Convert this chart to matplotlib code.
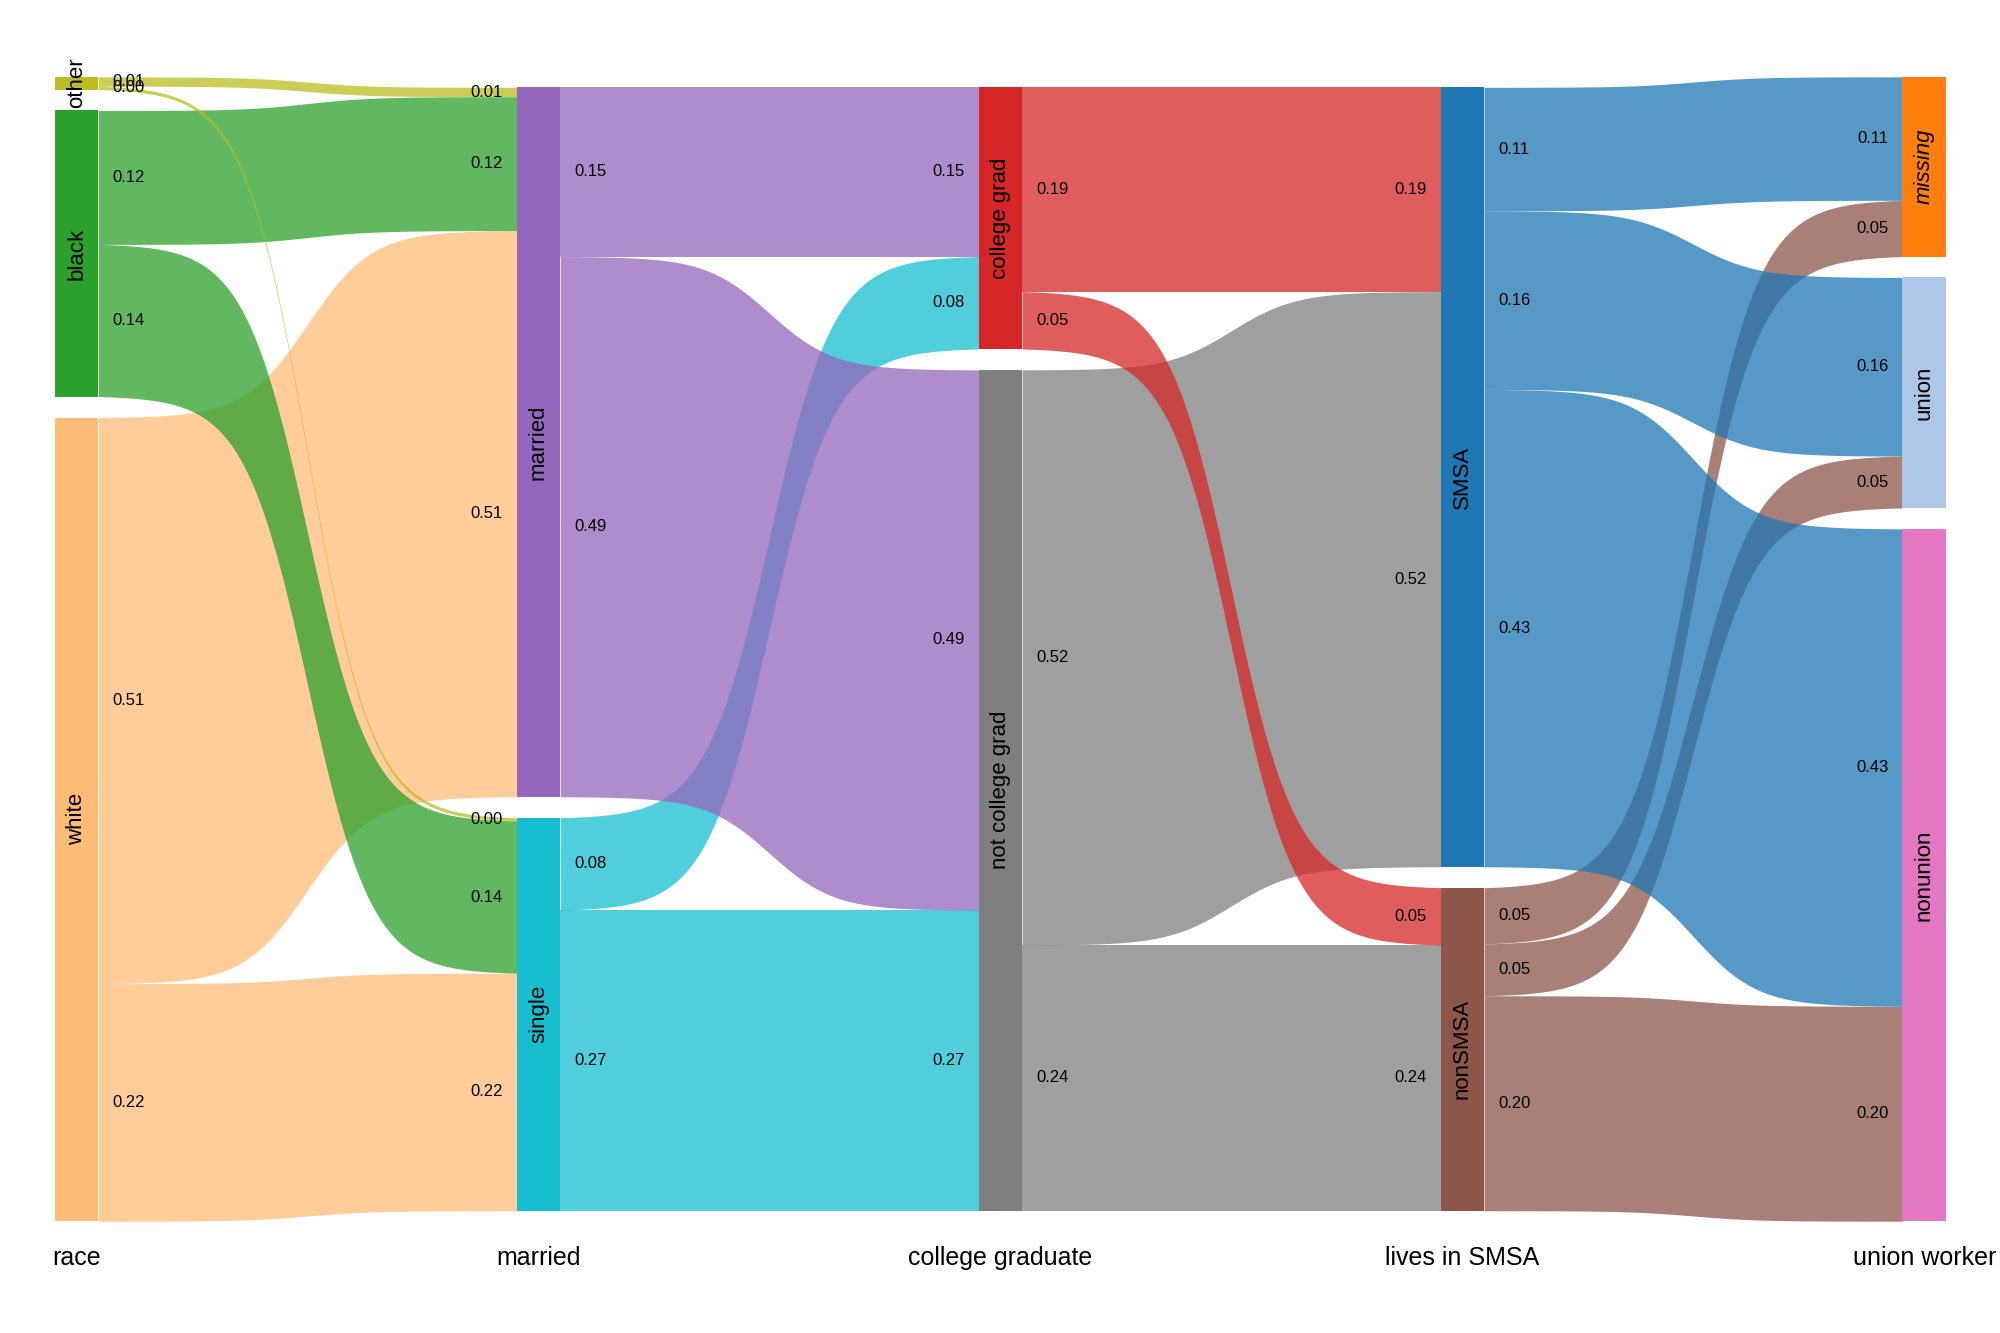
import matplotlib
matplotlib.use('Agg')
import matplotlib.pyplot as plt
import numpy as np
from matplotlib import font_manager

# stages (columns) of the sankey
stages = ["race", "married", "college graduate", "lives in SMSA", "union worker"]

race_nodes = ["other", "black", "white"]
married_nodes = ["married", "single"]
college_nodes = ["college grad", "not college grad"]
smsa_nodes = ["SMSA", "nonSMSA"]
union_nodes = ["missing", "union", "nonunion"]

race_colors = ["#bcbd22", "#2ca02c", "#ffbb78"]
married_colors = ["#9467bd", "#17becf"]
college_colors = ["#d62728", "#7f7f7f"]
smsa_colors = ["#1f77b4", "#8c564b"]
union_colors = ["#ff7f0e", "#aec7e8", "#e377c2"]

# flow shares (rows = source node, columns = target node)
race_to_married = [[0.0085, 0.003],
                   [0.1215, 0.138],
                   [0.5135, 0.2155]]
married_to_college = [[0.1535, 0.49],
                      [0.0838, 0.2727]]
college_to_smsa = [[0.1853, 0.052],
                   [0.5217, 0.241]]
smsa_to_union = [[0.112, 0.162, 0.433],
                 [0.051, 0.047, 0.195]]

node_names = [race_nodes, married_nodes, college_nodes, smsa_nodes, union_nodes]
node_colors = [race_colors, married_colors, college_colors, smsa_colors, union_colors]
flows = [race_to_married, married_to_college, college_to_smsa, smsa_to_union]

# fonts
names = {f.name for f in font_manager.fontManager.ttflist}
if "Liberation Sans Narrow" in names:
    fam = "Liberation Sans Narrow"
    fs_val, fs_node, fs_title = 14, 20, 22
else:
    fam = "Liberation Sans"
    fs_val, fs_node, fs_title = 12, 16, 18
plt.rcParams['font.family'] = [fam, "DejaVu Sans"]

gap = 0.019
node_w = 0.094
pad = 0.03

# node sizes per stage
sizes = [np.array(race_to_married).sum(axis=1)]
for m in flows:
    sizes.append(np.array(m).sum(axis=0))

# node top positions (columns centred on 0)
tops = []
for s in sizes:
    total = s.sum() + gap * (len(s) - 1)
    t = -total / 2 + np.concatenate([[0], np.cumsum(s[:-1] + gap)])
    tops.append(t)

fig = plt.figure(figsize=(20, 13.33), dpi=100)
ax = fig.add_axes([0, 0, 1, 1])
ax.set_xlim(-0.1189, 4.2111)
ax.set_ylim(0.6204, -0.5887)
ax.axis('off')


def curve(t, k=13.0):
    f = 1 / (1 + np.exp(-k * (t - 0.5)))
    f0 = 1 / (1 + np.exp(k * 0.5))
    f1 = 1 / (1 + np.exp(-k * 0.5))
    return (f - f0) / (f1 - f0)


xs = np.linspace(0, 1, 300)
for k, m in enumerate(flows):
    m = np.array(m)
    x0 = k + node_w
    x1 = k + 1
    xx = x0 + (x1 - x0) * xs
    f = curve(xs)
    n_src, n_tgt = m.shape
    # starting offsets
    src_off = tops[k].copy()
    src_pos = np.zeros_like(m)
    for i in range(n_src):
        for j in range(n_tgt):
            src_pos[i, j] = src_off[i]
            src_off[i] += m[i, j]
    tgt_off = tops[k + 1].copy()
    tgt_pos = np.zeros_like(m)
    for j in range(n_tgt):
        for i in range(n_src):
            tgt_pos[i, j] = tgt_off[j]
            tgt_off[j] += m[i, j]
    # draw later sources first so upper ones end up on top
    for i in reversed(range(n_src)):
        for j in range(n_tgt):
            v = m[i, j]
            a, b = src_pos[i, j], tgt_pos[i, j]
            top = a + (b - a) * f
            ax.fill_between(xx, top, top + v, color=node_colors[k][i],
                            alpha=0.75, lw=0, zorder=1)
    for i in range(n_src):
        for j in range(n_tgt):
            v = m[i, j]
            ax.text(x0 + pad, src_pos[i, j] + v / 2, "%.2f" % v,
                    ha='left', va='center', fontsize=fs_val, zorder=4)
            ax.text(x1 - pad, tgt_pos[i, j] + v / 2, "%.2f" % v,
                    ha='right', va='center', fontsize=fs_val, zorder=4)

# nodes
for k in range(len(stages)):
    for i, name in enumerate(node_names[k]):
        h = sizes[k][i]
        ax.add_patch(plt.Rectangle((k, tops[k][i]), node_w, h,
                                   color=node_colors[k][i], lw=0, zorder=3))
        style = 'italic' if name == "missing" else 'normal'
        ax.text(k + node_w / 2, tops[k][i] + h / 2, name, rotation=90,
                ha='center', va='center', fontsize=fs_node, style=style,
                zorder=5)
    ax.text(k + node_w / 2, 0.5524, stages[k], ha='center', va='center',
            fontsize=fs_title)

plt.savefig("out.png", dpi=100)
plt.close()
